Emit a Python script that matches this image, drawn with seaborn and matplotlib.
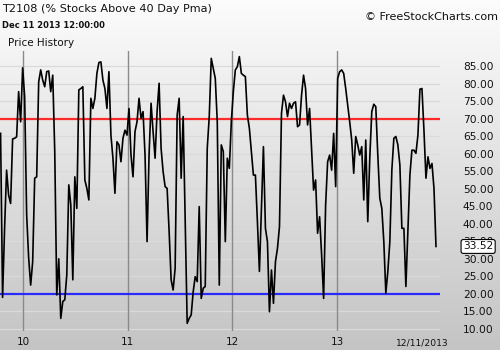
import numpy as np
import pandas as pd
import matplotlib
matplotlib.use("Agg")
import matplotlib.pyplot as plt
import matplotlib.transforms as mtransforms
import seaborn as sns

# Weekly T2108 readings (% of stocks above their 40-day moving average)
t2108 = [
    65.8, 19.0, 38.7, 55.3, 48.2, 45.8, 64.2, 64.4, 64.8, 77.7,
    69.1, 84.5, 76.3, 42.5, 30.2, 22.5, 29.2, 53.0, 53.4, 80.5,
    83.9, 81.0, 79.1, 83.4, 83.6, 77.7, 82.4, 60.6, 19.7, 30.0,
    13.0, 17.8, 18.3, 25.4, 51.1, 45.4, 24.0, 53.4, 44.4, 78.2,
    78.6, 79.1, 52.5, 50.1, 46.8, 75.8, 72.9, 75.8, 82.9, 86.0,
    86.2, 81.0, 78.6, 72.9, 83.4, 65.3, 58.7, 48.7, 63.4, 62.5,
    57.7, 64.4, 66.7, 65.3, 72.9, 59.6, 53.4, 66.3, 69.1, 75.8,
    70.1, 72.0, 59.6, 34.9, 59.6, 74.4, 66.3, 58.7, 72.0, 80.1,
    61.5, 54.9, 50.6, 50.1, 37.8, 24.0, 21.1, 27.3, 71.0, 75.8,
    53.0, 70.6, 40.6, 11.6, 13.0, 14.0, 20.6, 24.9, 23.5, 44.9,
    18.7, 21.6, 22.1, 61.5, 70.6, 87.2, 84.3, 81.5, 69.1, 22.5,
    62.5, 60.6, 34.9, 58.7, 55.8, 69.1, 77.7, 83.9, 84.8, 87.7,
    82.9, 82.4, 82.0, 71.0, 67.2, 60.6, 53.9, 53.9, 40.6, 26.4,
    44.4, 62.0, 38.7, 34.9, 14.9, 26.8, 17.3, 29.2, 33.0, 39.2,
    71.5, 76.7, 74.8, 70.6, 74.4, 72.9, 74.4, 74.8, 67.7, 68.2,
    76.7, 82.4, 78.6, 68.2, 72.9, 61.5, 49.6, 52.5, 37.3, 42.0,
    31.1, 18.7, 45.4, 57.7, 59.6, 55.3, 65.8, 50.6, 81.5, 83.4,
    83.9, 82.9, 78.6, 73.9, 69.1, 63.9, 54.4, 64.9, 62.5, 59.6,
    62.0, 46.8, 63.9, 40.6, 58.7, 72.0, 74.1, 73.4, 59.6, 47.3,
    44.4, 34.9, 20.2, 26.4, 34.9, 55.3, 64.4, 64.9, 62.5, 56.8,
    38.7, 38.7, 22.1, 37.8, 53.9, 61.0, 61.0, 60.1, 65.3, 78.4,
    78.6, 66.7, 53.0, 59.1, 55.8, 57.2, 50.1, 33.52,
]
last_date = "2013-12-11"
year_starts = ["2010-01-01", "2011-01-01", "2012-01-01", "2013-01-01"]
year_labels = ["10", "11", "12", "13"]
y_ticks = [10, 15, 20, 25, 30, 35, 40, 45, 50, 55, 60, 65, 70, 75, 80, 85]
overbought = 70
oversold = 20

dates = pd.date_range(end=last_date, periods=len(t2108), freq="7D")
df = pd.DataFrame({"date": dates, "value": t2108})

W, H = 500, 350
fig = plt.figure(figsize=(W / 100, H / 100), dpi=100)

# Vertical grey gradient behind everything
bg = fig.add_axes([0, 0, 1, 1], zorder=-10)
grad = np.linspace(252, 196, 256)[:, None] / 255.0
bg.imshow(np.dstack([grad, grad, grad]), aspect="auto", extent=[0, 1, 0, 1])
bg.set_axis_off()

# Plot area in pixels: x 0..440, y 51..331
ax = fig.add_axes([0, (H - 331) / H, 440 / W, 280 / H])
ax.patch.set_alpha(0)

sns.lineplot(data=df, x="date", y="value", color="black", lw=1.2, ax=ax, zorder=5)

ax.axhline(overbought, color="#ff2a2a", lw=1.6, zorder=4)
ax.axhline(oversold, color="#2a2aff", lw=1.6, zorder=4)
for d in year_starts:
    ax.axvline(pd.Timestamp(d), color="#8a8a8a", lw=1.0, zorder=2)

ax.set_ylim(9.4, 89.3)
ax.set_xlim(dates[0] - pd.Timedelta(days=2), dates[-1] + pd.Timedelta(days=14))

ax.set_yticks(y_ticks)
ax.set_yticklabels([f"{v:.2f}" for v in y_ticks])
ax.yaxis.tick_right()
ax.tick_params(axis="y", length=0, pad=16.5, labelsize=7.7, labelcolor="#111111")
ax.yaxis.grid(True, color="#dadada", lw=0.9, zorder=1)
ax.xaxis.grid(False)

ax.set_xticks([pd.Timestamp(d) for d in year_starts])
ax.set_xticklabels(year_labels)
ax.tick_params(axis="x", length=0, pad=4.5, labelsize=7.5, labelcolor="#111111")
ax.set_xlabel("")
ax.set_ylabel("")
for s in ax.spines.values():
    s.set_visible(False)

ax.annotate("12/11/2013", xy=(1.0, 0), xycoords="axes fraction",
            xytext=(6, -8.5), textcoords="offset points",
            ha="right", va="center", fontsize=6.6, color="#111111")

# Last value marker on the price scale
tr = mtransforms.blended_transform_factory(ax.transAxes, ax.transData)
ax.text(463 / 440, t2108[-1], f"{t2108[-1]:.2f}", transform=tr, ha="left", va="center",
        fontsize=7.7, color="#111111", zorder=10, clip_on=False,
        bbox=dict(boxstyle="round,pad=0.18,rounding_size=0.2", fc="white", ec="black", lw=0.8))

def ftext(x, y, s, **kw):
    fig.text(x / W, 1 - y / H, s, va="center", **kw)

ftext(2, 9, "T2108 (% Stocks Above 40 Day Pma)", fontsize=8.1, color="#111111")
ftext(2, 25, "Dec 11 2013 12:00:00", fontsize=6.0, fontweight="bold", color="#111111")
ftext(8, 43, "Price History", fontsize=7.5, color="#111111")
ftext(498, 17, "\u00a9 FreeStockCharts.com", fontsize=8.0, color="#111111", ha="right")

fig.savefig("out.png", dpi=100)
